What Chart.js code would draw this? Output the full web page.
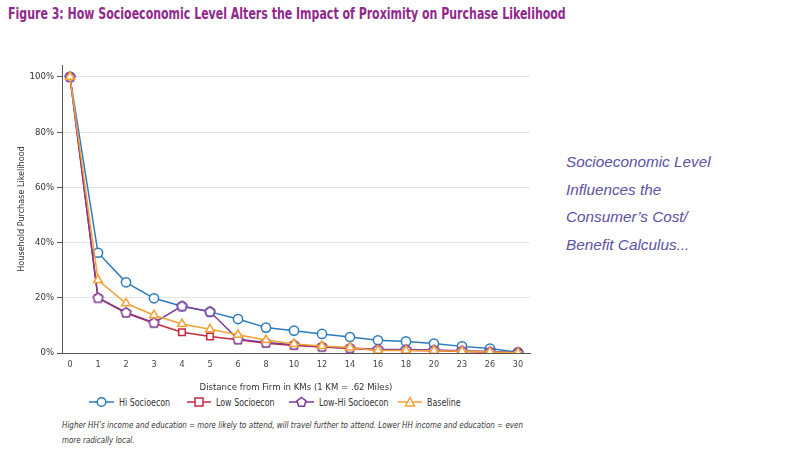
<!DOCTYPE html>
<html>
<head>
<meta charset="utf-8">
<script src="https://cdn.jsdelivr.net/npm/chart.js@4.4.0/dist/chart.umd.min.js"></script>
<style>
    body { margin: 0; width: 800px; height: 469px; background: #fff; position: relative; overflow: hidden; font-family: "DejaVu Sans Condensed", "Liberation Sans", sans-serif; }
    #title { position: absolute; left: 8px; top: 5px; font-weight: bold; font-size: 15px; color: #8f2a8c; white-space: nowrap; transform: scaleX(0.815); transform-origin: left top; }
    #wrap { position: absolute; left: 0; top: 0; width: 545px; height: 393px; }
    #side { position: absolute; left: 566px; top: 148px; font-family: "Liberation Sans", sans-serif; font-style: italic; font-size: 15.3px; line-height: 27.5px; color: #5b52a3; }
    .leg { position: absolute; top: 395px; height: 14px; display: flex; align-items: center; font-size: 10.5px; color: #333; white-space: nowrap; }
    .leg svg { margin-right: 5px; }
    .leg span { display: inline-block; transform: scaleX(0.84); transform-origin: left center; }
    #note { position: absolute; left: 62px; top: 418px; font-style: italic; font-size: 9.5px; line-height: 14.5px; color: #333; white-space: nowrap; transform: scaleX(0.837); transform-origin: left top; }
</style>
</head>
<body>
<div id="title">Figure 3: How Socioeconomic Level Alters the Impact of Proximity on Purchase Likelihood</div>
<div id="wrap"><canvas id="myChart"></canvas></div>
<div id="side">Socioeconomic Level<br>Influences the<br>Consumer’s Cost/<br>Benefit Calculus...</div>
<div class="leg" style="left:89px"><svg width="25" height="12"><line x1="0" y1="6" x2="25" y2="6" stroke="#2b7bba" stroke-width="1.5"/><circle cx="12.5" cy="6" r="4.3" fill="#fff" stroke="#2b7bba" stroke-width="1.5"/></svg><span>Hi Socioecon</span></div>
<div class="leg" style="left:187px"><svg width="24" height="12"><line x1="0" y1="6" x2="24" y2="6" stroke="#c9283e" stroke-width="1.5"/><rect x="8" y="2" width="8" height="8" fill="#fff" stroke="#c9283e" stroke-width="1.5"/></svg><span>Low Socioecon</span></div>
<div class="leg" style="left:289px"><svg width="25" height="12"><line x1="0" y1="6" x2="25" y2="6" stroke="#7b3b97" stroke-width="1.5"/><polygon points="12.5,1.5 17,4.8 15.3,10.3 9.7,10.3 8,4.8" fill="#fff" stroke="#7b3b97" stroke-width="1.5"/></svg><span>Low-Hi Socioecon</span></div>
<div class="leg" style="left:398px"><svg width="24" height="12"><line x1="0" y1="6" x2="24" y2="6" stroke="#f4a236" stroke-width="1.5"/><polygon points="12,1.5 16.5,10 7.5,10" fill="#fff" stroke="#f4a236" stroke-width="1.5"/></svg><span>Baseline</span></div>
<div id="note">Higher HH’s income and education = more likely to attend, will travel further to attend. Lower HH income and education = even<br>more radically local.</div>
<script>
const distances = ["0", "1", "2", "3", "4", "5", "6", "8", "10", "12", "14", "16", "18", "20", "23", "26", "30"];
const hiSocio = [100, 36.3, 25.6, 19.8, 16.9, 14.9, 12.3, 9.2, 8.1, 6.9, 5.8, 4.6, 4.2, 3.4, 2.4, 1.6, 0.3];
const lowSocio = [100, 19.9, 14.5, 10.8, 7.5, 6.0, 4.8, 3.5, 2.7, 2.2, 1.6, 1.1, 1.0, 0.8, 0.5, 0.3, 0.1];
const lowHiSocio = [100, 20, 14.7, 11, 17, 15, 5, 3.8, 3.0, 2.3, 1.8, 1.4, 1.3, 1.1, 0.8, 0.5, 0.2];
const baseline = [100, 26.4, 18, 13.7, 10.5, 8.6, 6.6, 4.7, 3.3, 2.5, 2.0, 0.9, 0.9, 0.8, 0.6, 0.4, 0.1];
const yTicks = [0, 20, 40, 60, 80, 100];

Chart.defaults.font.family = "'DejaVu Sans Condensed', 'Liberation Sans', sans-serif";

// pentagon marker for the Low-Hi series
function pentagon(color) {
    const c = document.createElement("canvas");
    c.width = 13;
    c.height = 13;
    const g = c.getContext("2d");
    g.beginPath();
    for (let k = 0; k < 5; k++) {
        const a = -Math.PI / 2 + (k * 2 * Math.PI) / 5;
        const px = 6.5 + 5.2 * Math.cos(a);
        const py = 6.9 + 5.2 * Math.sin(a);
        if (k === 0) g.moveTo(px, py);
        else g.lineTo(px, py);
    }
    g.closePath();
    g.fillStyle = "#fff";
    g.fill();
    g.lineWidth = 1.5;
    g.strokeStyle = color;
    g.stroke();
    return c;
}

function toPoints(arr) {
    return arr.map((v, i) => ({ x: i, y: v }));
}

function series(label, arr, color, style, radius, order) {
    return {
        label: label,
        data: toPoints(arr),
        borderColor: color,
        borderWidth: 1.5,
        backgroundColor: "#fff",
        pointStyle: style,
        pointRadius: radius,
        pointBorderWidth: 1.5,
        pointBorderColor: color,
        pointBackgroundColor: "#fff",
        order: order,
    };
}

const ctx = document.getElementById("myChart").getContext("2d");
new Chart(ctx, {
    type: "line",
    data: {
        datasets: [
            series("Hi Socioecon", hiSocio, "#2b7bba", "circle", 4.6, 4),
            series("Low Socioecon", lowSocio, "#c9283e", "rect", 4.6, 3),
            series("Low-Hi Socioecon", lowHiSocio, "#7b3b97", pentagon("#7b3b97"), 6.5, 2),
            series("Baseline", baseline, "#f4a236", "triangle", 5, 1),
        ],
    },
    options: {
        responsive: true,
        maintainAspectRatio: false,
        animation: false,
        layout: { padding: { top: 65, right: 15, left: 0, bottom: 0 } },
        plugins: { legend: { display: false }, tooltip: { enabled: false } },
        scales: {
            x: {
                type: "linear",
                min: -0.286,
                max: 16.43,
                afterBuildTicks: (s) => {
                    s.ticks = distances.map((_, i) => ({ value: i }));
                },
                afterFit: (s) => {
                    s.height = 40;
                },
                ticks: {
                    callback: (v) => distances[v],
                    color: "#444",
                    font: { size: 9 },
                    padding: 6,
                    maxRotation: 0,
                },
                grid: { display: false, drawTicks: false },
                border: { color: "#555", width: 1 },
                title: {
                    display: true,
                    text: "Distance from Firm in KMs (1 KM = .62 Miles)",
                    color: "#333",
                    font: { size: 9.5 },
                    padding: { top: 4, bottom: 0 },
                },
            },
            y: {
                min: 0,
                max: 104.3,
                afterBuildTicks: (s) => {
                    s.ticks = yTicks.map((v) => ({ value: v }));
                },
                afterFit: (s) => {
                    s.width = 62;
                },
                ticks: {
                    callback: (v) => v + "%",
                    color: "#333",
                    font: { size: 9.5 },
                    padding: 3,
                },
                grid: { color: "#e4e4e4", tickColor: "#555", tickLength: 5, lineWidth: 1 },
                border: { color: "#555", width: 1 },
                title: {
                    display: true,
                    text: "Household Purchase Likelihood",
                    color: "#333",
                    font: { size: 9 },
                    padding: { top: 16, bottom: 0 },
                },
            },
        },
    },
});
</script>
</body>
</html>
